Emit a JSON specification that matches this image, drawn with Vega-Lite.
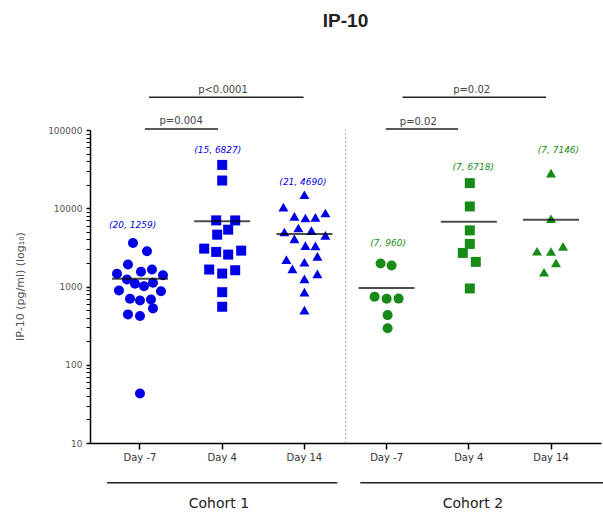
{
  "$schema": "https://vega.github.io/schema/vega-lite/v6.json",
  "width": 511,
  "height": 313,
  "autosize": {"type": "none"},
  "padding": {"left": 90, "top": 130, "right": 2, "bottom": 79},
  "background": "white",
  "config": {"view": {"stroke": null}, "font": "DejaVu Sans"},
  "title": {"text": "IP-10", "fontSize": 19, "fontWeight": "bold", "font": "Liberation Sans", "color": "#222", "anchor": "middle", "frame": "group", "offset": 54},
  "datasets": {
    "pts": [
      {"g":"C1 Day -7","cohort":"Cohort 1","day":"Day -7","v":3606,"off":-7},
      {"g":"C1 Day -7","cohort":"Cohort 1","day":"Day -7","v":2818,"off":7},
      {"g":"C1 Day -7","cohort":"Cohort 1","day":"Day -7","v":1906,"off":-12},
      {"g":"C1 Day -7","cohort":"Cohort 1","day":"Day -7","v":1540,"off":1},
      {"g":"C1 Day -7","cohort":"Cohort 1","day":"Day -7","v":1647,"off":12},
      {"g":"C1 Day -7","cohort":"Cohort 1","day":"Day -7","v":1452,"off":-23},
      {"g":"C1 Day -7","cohort":"Cohort 1","day":"Day -7","v":1393,"off":23},
      {"g":"C1 Day -7","cohort":"Cohort 1","day":"Day -7","v":1228,"off":-13},
      {"g":"C1 Day -7","cohort":"Cohort 1","day":"Day -7","v":1082,"off":-5},
      {"g":"C1 Day -7","cohort":"Cohort 1","day":"Day -7","v":1009,"off":4},
      {"g":"C1 Day -7","cohort":"Cohort 1","day":"Day -7","v":1115,"off":13},
      {"g":"C1 Day -7","cohort":"Cohort 1","day":"Day -7","v":889,"off":-21},
      {"g":"C1 Day -7","cohort":"Cohort 1","day":"Day -7","v":871,"off":21},
      {"g":"C1 Day -7","cohort":"Cohort 1","day":"Day -7","v":697,"off":-10},
      {"g":"C1 Day -7","cohort":"Cohort 1","day":"Day -7","v":663,"off":0},
      {"g":"C1 Day -7","cohort":"Cohort 1","day":"Day -7","v":683,"off":11},
      {"g":"C1 Day -7","cohort":"Cohort 1","day":"Day -7","v":525,"off":13},
      {"g":"C1 Day -7","cohort":"Cohort 1","day":"Day -7","v":440,"off":-12},
      {"g":"C1 Day -7","cohort":"Cohort 1","day":"Day -7","v":419,"off":0},
      {"g":"C1 Day -7","cohort":"Cohort 1","day":"Day -7","v":43,"off":0},
      {"g":"C1 Day 4","cohort":"Cohort 1","day":"Day 4","v":35810,"off":0},
      {"g":"C1 Day 4","cohort":"Cohort 1","day":"Day 4","v":22600,"off":0},
      {"g":"C1 Day 4","cohort":"Cohort 1","day":"Day 4","v":7000,"off":-6},
      {"g":"C1 Day 4","cohort":"Cohort 1","day":"Day 4","v":6990,"off":13},
      {"g":"C1 Day 4","cohort":"Cohort 1","day":"Day 4","v":4594,"off":-5},
      {"g":"C1 Day 4","cohort":"Cohort 1","day":"Day 4","v":5322,"off":6},
      {"g":"C1 Day 4","cohort":"Cohort 1","day":"Day 4","v":3048,"off":-18},
      {"g":"C1 Day 4","cohort":"Cohort 1","day":"Day 4","v":2767,"off":-6},
      {"g":"C1 Day 4","cohort":"Cohort 1","day":"Day 4","v":2557,"off":6},
      {"g":"C1 Day 4","cohort":"Cohort 1","day":"Day 4","v":2874,"off":19},
      {"g":"C1 Day 4","cohort":"Cohort 1","day":"Day 4","v":1647,"off":-13},
      {"g":"C1 Day 4","cohort":"Cohort 1","day":"Day 4","v":1464,"off":0},
      {"g":"C1 Day 4","cohort":"Cohort 1","day":"Day 4","v":1613,"off":13},
      {"g":"C1 Day 4","cohort":"Cohort 1","day":"Day 4","v":846,"off":0},
      {"g":"C1 Day 4","cohort":"Cohort 1","day":"Day 4","v":551,"off":0},
      {"g":"C1 Day 14","cohort":"Cohort 1","day":"Day 14","v":14860,"off":0},
      {"g":"C1 Day 14","cohort":"Cohort 1","day":"Day 14","v":10360,"off":-21},
      {"g":"C1 Day 14","cohort":"Cohort 1","day":"Day 14","v":7865,"off":-10},
      {"g":"C1 Day 14","cohort":"Cohort 1","day":"Day 14","v":7500,"off":1},
      {"g":"C1 Day 14","cohort":"Cohort 1","day":"Day 14","v":7640,"off":11},
      {"g":"C1 Day 14","cohort":"Cohort 1","day":"Day 14","v":8690,"off":21},
      {"g":"C1 Day 14","cohort":"Cohort 1","day":"Day 14","v":5595,"off":-6},
      {"g":"C1 Day 14","cohort":"Cohort 1","day":"Day 14","v":4976,"off":-20},
      {"g":"C1 Day 14","cohort":"Cohort 1","day":"Day 14","v":5168,"off":7},
      {"g":"C1 Day 14","cohort":"Cohort 1","day":"Day 14","v":4506,"off":21},
      {"g":"C1 Day 14","cohort":"Cohort 1","day":"Day 14","v":4053,"off":-10},
      {"g":"C1 Day 14","cohort":"Cohort 1","day":"Day 14","v":3327,"off":1},
      {"g":"C1 Day 14","cohort":"Cohort 1","day":"Day 14","v":3300,"off":11},
      {"g":"C1 Day 14","cohort":"Cohort 1","day":"Day 14","v":2432,"off":13},
      {"g":"C1 Day 14","cohort":"Cohort 1","day":"Day 14","v":2208,"off":-18},
      {"g":"C1 Day 14","cohort":"Cohort 1","day":"Day 14","v":2040,"off":0},
      {"g":"C1 Day 14","cohort":"Cohort 1","day":"Day 14","v":1680,"off":-12},
      {"g":"C1 Day 14","cohort":"Cohort 1","day":"Day 14","v":1452,"off":13},
      {"g":"C1 Day 14","cohort":"Cohort 1","day":"Day 14","v":1253,"off":0},
      {"g":"C1 Day 14","cohort":"Cohort 1","day":"Day 14","v":846,"off":0},
      {"g":"C1 Day 14","cohort":"Cohort 1","day":"Day 14","v":499,"off":0},
      {"g":"C2 Day -7","cohort":"Cohort 2","day":"Day -7","v":1963,"off":-6},
      {"g":"C2 Day -7","cohort":"Cohort 2","day":"Day -7","v":1852,"off":5},
      {"g":"C2 Day -7","cohort":"Cohort 2","day":"Day -7","v":739,"off":-12},
      {"g":"C2 Day -7","cohort":"Cohort 2","day":"Day -7","v":697,"off":0},
      {"g":"C2 Day -7","cohort":"Cohort 2","day":"Day -7","v":700,"off":12},
      {"g":"C2 Day -7","cohort":"Cohort 2","day":"Day -7","v":431,"off":1},
      {"g":"C2 Day -7","cohort":"Cohort 2","day":"Day -7","v":292,"off":1},
      {"g":"C2 Day 4","cohort":"Cohort 2","day":"Day 4","v":20940,"off":1},
      {"g":"C2 Day 4","cohort":"Cohort 2","day":"Day 4","v":10540,"off":1},
      {"g":"C2 Day 4","cohort":"Cohort 2","day":"Day 4","v":5213,"off":1},
      {"g":"C2 Day 4","cohort":"Cohort 2","day":"Day 4","v":3500,"off":1},
      {"g":"C2 Day 4","cohort":"Cohort 2","day":"Day 4","v":2687,"off":-6},
      {"g":"C2 Day 4","cohort":"Cohort 2","day":"Day 4","v":2064,"off":7},
      {"g":"C2 Day 4","cohort":"Cohort 2","day":"Day 4","v":944,"off":1},
      {"g":"C2 Day 14","cohort":"Cohort 2","day":"Day 14","v":28060,"off":0},
      {"g":"C2 Day 14","cohort":"Cohort 2","day":"Day 14","v":7350,"off":0},
      {"g":"C2 Day 14","cohort":"Cohort 2","day":"Day 14","v":2818,"off":-14},
      {"g":"C2 Day 14","cohort":"Cohort 2","day":"Day 14","v":2800,"off":0},
      {"g":"C2 Day 14","cohort":"Cohort 2","day":"Day 14","v":3260,"off":12},
      {"g":"C2 Day 14","cohort":"Cohort 2","day":"Day 14","v":2004,"off":5},
      {"g":"C2 Day 14","cohort":"Cohort 2","day":"Day 14","v":1521,"off":-7}
    ],
    "means": [
      {"g":"C1 Day -7","m":1259},
      {"g":"C1 Day 4","m":6827},
      {"g":"C1 Day 14","m":4690},
      {"g":"C2 Day -7","m":960},
      {"g":"C2 Day 4","m":6718},
      {"g":"C2 Day 14","m":7146}
    ],
    "glab": [
      {"g":"C1 Day -7","cohort":"Cohort 1","t":"(20, 1259)","ty":6170},
      {"g":"C1 Day 4","cohort":"Cohort 1","t":"(15, 6827)","ty":55600},
      {"g":"C1 Day 14","cohort":"Cohort 1","t":"(21, 4690)","ty":21800},
      {"g":"C2 Day -7","cohort":"Cohort 2","t":"(7, 960)","ty":3640},
      {"g":"C2 Day 4","cohort":"Cohort 2","t":"(7, 6718)","ty":33800},
      {"g":"C2 Day 14","cohort":"Cohort 2","t":"(7, 7146)","ty":55600}
    ],
    "brk": [
      {"x":1.11,"x2":2.99,"y":263000},
      {"x":1.06,"x2":1.95,"y":103000},
      {"x":4.195,"x2":5.94,"y":263000},
      {"x":3.99,"x2":4.87,"y":103000},
      {"x":0.6,"x2":3.4,"y":3.1},
      {"x":3.68,"x2":6.65,"y":3.1}
    ],
    "ptxt": [
      {"x":2.01,"y":324000,"t":"p<0.0001"},
      {"x":1.5,"y":130000,"t":"p=0.004"},
      {"x":5.035,"y":324000,"t":"p=0.02"},
      {"x":4.386,"y":125000,"t":"p=0.02"}
    ],
    "ctxt": [
      {"x":1.96,"y":1.68,"t":"Cohort 1"},
      {"x":5.05,"y":1.68,"t":"Cohort 2"}
    ],
    "sep": [
      {"x":3.5,"y1":10,"y2":100000}
    ]
  },
  "layer": [
    {
      "data": {"name": "pts"},
      "mark": {"type": "point", "filled": true, "opacity": 1, "size": 100},
      "encoding": {
        "x": {"field": "g", "type": "nominal", "sort": ["C1 Day -7","C1 Day 4","C1 Day 14","C2 Day -7","C2 Day 4","C2 Day 14"], "scale": {"paddingInner": 0, "paddingOuter": 0.108},
          "axis": {"title": null, "labelExpr": "substring(datum.label, 3)", "labelAngle": 0, "labelFontSize": 10, "labelColor": "#333", "labelPadding": 3, "tickSize": 6, "tickColor": "#000", "tickWidth": 1.5, "domainColor": "#000", "domainWidth": 1.5, "labelFont": "DejaVu Sans"}},
        "xOffset": {"field": "off", "type": "quantitative", "scale": {"domain": [-41.1, 41.1]}},
        "y": {"field": "v", "type": "quantitative", "scale": {"type": "log", "domain": [10, 100000], "nice": false},
          "axis": {"values": [10,20,30,40,50,60,70,80,90,100,200,300,400,500,600,700,800,900,1000,2000,3000,4000,5000,6000,7000,8000,9000,10000,20000,30000,40000,50000,60000,70000,80000,90000,100000],
            "format": "d", "labelOverlap": false,
            "labelExpr": "abs(log(datum.value)/LN10 - round(log(datum.value)/LN10)) < 0.000001 ? datum.label : ''",
            "tickSize": 4,
            "tickWidth": {"condition": {"test": "abs(log(datum.value)/LN10 - round(log(datum.value)/LN10)) < 0.000001", "value": 1.5}, "value": 1},
            "tickColor": "#000", "domainColor": "#000", "domainWidth": 1.5, "labelFontSize": 9, "labelColor": "#555", "labelPadding": 4, "grid": false,
            "title": "IP-10 (pg/ml) (log₁₀)", "titleFontSize": 11, "titleFontWeight": "normal", "titleColor": "#555", "titleX": -70, "titleY": 156, "titleAngle": -90, "titleAlign": "center", "titleBaseline": "middle"}},
        "color": {"field": "cohort", "type": "nominal", "scale": {"domain": ["Cohort 1", "Cohort 2"], "range": ["#0000e6", "#178a17"]}, "legend": null},
        "shape": {"field": "day", "type": "nominal", "scale": {"domain": ["Day -7", "Day 4", "Day 14"], "range": ["circle", "square", "triangle-up"]}, "legend": null}
      }
    },
    {
      "data": {"name": "means"},
      "mark": {"type": "tick", "color": "#000", "thickness": 2, "size": 56},
      "encoding": {
        "x": {"field": "g", "type": "nominal", "sort": ["C1 Day -7","C1 Day 4","C1 Day 14","C2 Day -7","C2 Day 4","C2 Day 14"], "scale": {"paddingInner": 0, "paddingOuter": 0.108}, "axis": null},
        "y": {"field": "m", "type": "quantitative", "scale": {"type": "log", "domain": [10, 100000], "nice": false}, "axis": null}
      }
    },
    {
      "data": {"name": "glab"},
      "mark": {"type": "text", "fontStyle": "italic", "fontSize": 9, "font": "DejaVu Sans", "baseline": "middle"},
      "encoding": {
        "x": {"field": "g", "type": "nominal", "sort": ["C1 Day -7","C1 Day 4","C1 Day 14","C2 Day -7","C2 Day 4","C2 Day 14"], "scale": {"paddingInner": 0, "paddingOuter": 0.108}, "axis": null},
        "y": {"field": "ty", "type": "quantitative", "scale": {"type": "log", "domain": [10, 100000], "nice": false}, "axis": null},
        "text": {"field": "t"},
        "color": {"field": "cohort", "type": "nominal", "scale": {"domain": ["Cohort 1", "Cohort 2"], "range": ["#0000e6", "#178a17"]}, "legend": null}
      }
    },
    {
      "data": {"name": "sep"},
      "mark": {"type": "rule", "color": "#b0b0b0", "strokeDash": [2, 2], "strokeWidth": 1},
      "encoding": {
        "x": {"field": "x", "type": "quantitative", "scale": {"domain": [0.392, 6.609], "nice": false, "zero": false}, "axis": null},
        "y": {"field": "y1", "type": "quantitative", "scale": {"type": "log", "domain": [10, 100000], "nice": false}, "axis": null},
        "y2": {"field": "y2"}
      }
    },
    {
      "data": {"name": "brk"},
      "mark": {"type": "rule", "color": "#222", "strokeWidth": 1.5},
      "encoding": {
        "x": {"field": "x", "type": "quantitative", "scale": {"domain": [0.392, 6.609], "nice": false, "zero": false}, "axis": null},
        "x2": {"field": "x2"},
        "y": {"field": "y", "type": "quantitative", "scale": {"type": "log", "domain": [10, 100000], "nice": false}, "axis": null}
      }
    },
    {
      "data": {"name": "ptxt"},
      "mark": {"type": "text", "fontSize": 10, "font": "DejaVu Sans", "color": "#444", "baseline": "middle"},
      "encoding": {
        "x": {"field": "x", "type": "quantitative", "scale": {"domain": [0.392, 6.609], "nice": false, "zero": false}, "axis": null},
        "y": {"field": "y", "type": "quantitative", "scale": {"type": "log", "domain": [10, 100000], "nice": false}, "axis": null},
        "text": {"field": "t"}
      }
    },
    {
      "data": {"name": "ctxt"},
      "mark": {"type": "text", "fontSize": 14, "font": "DejaVu Sans", "color": "#222", "baseline": "middle"},
      "encoding": {
        "x": {"field": "x", "type": "quantitative", "scale": {"domain": [0.392, 6.609], "nice": false, "zero": false}, "axis": null},
        "y": {"field": "y", "type": "quantitative", "scale": {"type": "log", "domain": [10, 100000], "nice": false}, "axis": null},
        "text": {"field": "t"}
      }
    }
  ],
  "resolve": {"scale": {"x": "independent"}, "axis": {"x": "independent", "y": "independent"}}
}
